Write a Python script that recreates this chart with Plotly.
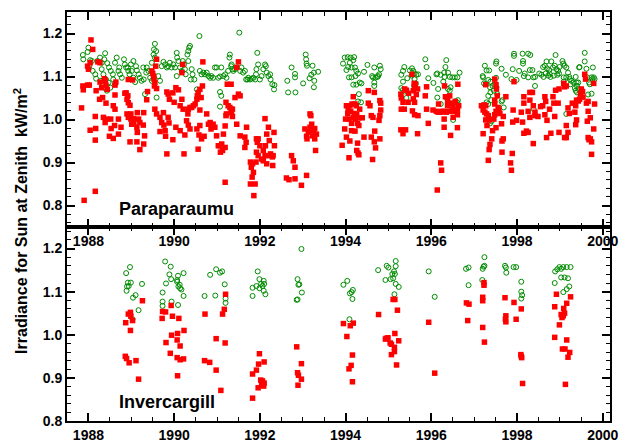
import plotly.graph_objects as go

# ---------------- Paraparaumu: clear-sky (green open circles) ----------------
para_clear_year = [
1987.87,1987.88,1988.00,1987.98,1988.04,1988.08,1988.02,1988.10,1988.16,1988.18,1988.21,1988.27,1988.31,1988.31,1988.35,1988.29,1988.33,1988.37,1988.41,1988.43,
1988.39,1988.37,1988.44,1988.48,1988.52,1988.57,1988.58,1988.62,1988.51,1988.47,1988.66,1988.62,1988.70,1988.72,1988.74,1988.78,1988.83,1988.85,1988.88,1988.92,
1988.93,1988.96,1988.99,1989.01,1989.05,1989.09,1989.05,1989.11,1989.13,1989.17,1989.20,1989.24,1989.29,1989.32,1989.35,1989.28,1989.36,1989.40,1989.44,1989.48,
1989.48,1989.52,1989.53,1989.55,1989.58,1989.55,1989.59,1989.63,1989.67,1989.71,1989.75,1989.79,1989.83,1989.86,1989.90,1989.94,1989.98,1990.02,1990.06,1990.07,
1990.10,1990.06,1990.14,1990.18,1990.20,1990.23,1990.25,1990.27,1990.31,1990.33,1990.35,1990.37,1990.33,1990.39,1990.41,1990.43,1990.47,1990.53,1990.59,1990.60,
1990.64,1990.68,1990.72,1990.76,1990.80,1990.84,1990.87,1990.91,1990.95,1990.99,1991.03,1991.07,1991.10,1991.07,1991.10,1991.07,1991.15,1991.19,1991.22,1991.26,
1991.29,1991.30,1991.33,1991.34,1991.36,1991.38,1991.42,1991.46,1991.52,1991.54,1991.57,1991.61,1991.65,1991.68,1991.71,1991.73,1991.77,1991.81,1991.85,1991.89,
1991.91,1991.92,1991.96,1991.94,1992.00,1992.04,1992.08,1992.12,1992.14,1992.16,1992.20,1992.24,1992.25,1992.29,1992.33,1992.34,
1992.64,1992.82,1992.82,1992.74,1992.66,1992.83,1993.01,1993.07,1993.08,1993.09,1993.10,1993.23,1993.20,1993.26,1993.36,1993.27,1993.26,1993.16,
1993.94,1993.98,1994.05,1994.12,1994.20,1994.18,1994.10,1994.06,1994.02,1994.14,1994.22,1994.25,1994.29,1994.23,1994.14,1994.08,1994.18,1994.25,1994.33,1994.37,
1994.31,1994.36,1994.29,1994.51,1994.67,1994.62,1994.64,1994.70,1994.67,1994.67,1994.80,1994.82,1994.78,1994.76,1994.74,1994.43,
1995.30,1995.34,1995.34,1995.37,1995.30,1995.34,1995.38,1995.42,1995.44,1995.50,1995.55,1995.58,1995.61,1995.65,1995.69,1995.54,1995.61,1995.64,1995.60,1995.86,
1995.89,1995.93,1996.05,1996.12,1996.14,1996.22,1996.30,1996.31,1996.35,1996.33,1996.28,1996.39,1996.43,1996.49,1996.55,1996.61,1996.66,1996.39,1996.43,1996.35,
1996.14,1996.22,1996.43,1996.56,1996.62,1996.61,1996.51,1996.16,1996.45,
1997.20,1997.21,1997.25,1997.29,1997.35,1997.33,1997.27,1997.23,1997.38,1997.37,1997.43,1997.48,1997.52,1997.51,1997.51,1997.52,1997.38,1997.46,1997.54,1997.33,
1997.29,1997.33,1997.40,1997.66,1997.64,1997.69,1997.41,1997.37,1997.64,1997.74,1997.87,1997.90,1997.93,1997.93,1997.99,1998.05,1998.13,1998.14,1998.14,1998.16,
1998.18,1998.26,1998.31,1998.30,1998.36,1998.38,1998.42,1998.26,1998.42,1998.39,1998.52,1998.57,1998.61,1998.65,1998.62,1998.69,1998.70,1998.75,1998.76,1998.80,
1998.78,1998.67,1998.73,1998.84,1998.88,1998.90,1998.92,1998.96,1998.99,1998.98,1998.94,1998.86,1999.06,1999.08,1999.11,1999.15,1999.19,1999.09,1999.15,1999.22,
1999.23,1999.27,1999.32,1999.37,1999.39,1999.40,1999.43,1999.43,1999.45,1999.46,1999.58,1999.58,1999.62,1999.64,1999.68,1999.66,1999.70,1999.74,1999.76,1999.77,
1999.79,1999.81,1999.35,1999.37,1999.40,1999.25,1999.15,1999.09,1999.74]
para_clear_irr = [
1.150,1.140,1.167,1.157,1.138,1.136,1.124,1.113,1.105,1.095,1.136,1.144,1.132,1.117,1.105,1.090,1.078,1.074,1.093,1.067,
1.154,1.140,1.131,1.121,1.113,1.105,1.093,1.082,1.074,1.086,1.144,1.132,1.113,1.121,1.105,1.097,1.140,1.128,1.121,1.121,
1.113,1.105,1.128,1.113,1.097,1.087,1.136,1.124,1.114,1.105,1.097,1.090,1.093,1.059,1.109,1.121,1.121,1.113,1.097,1.090,
1.132,1.151,1.163,1.176,1.159,1.144,1.051,1.101,1.090,1.124,1.134,1.128,1.121,1.124,1.132,1.121,1.128,1.121,1.155,1.144,
1.136,1.101,1.121,1.113,1.136,1.128,1.117,1.105,1.151,1.159,1.167,1.171,1.136,1.093,1.117,1.105,1.093,1.070,1.194,1.113,
1.105,1.109,1.105,1.109,1.101,1.097,1.101,1.097,1.121,1.121,1.097,1.100,1.121,1.064,1.055,1.030,1.101,1.105,1.097,1.113,
1.144,1.151,1.124,1.128,1.117,1.113,1.117,1.121,1.202,1.113,1.121,1.109,1.113,1.093,1.093,1.097,1.093,1.095,1.097,1.093,
1.105,1.117,1.128,1.155,1.093,1.101,1.117,1.128,1.124,1.109,1.101,1.105,1.093,1.082,1.070,1.080,
1.090,1.106,1.098,1.121,1.063,1.063,1.084,1.151,1.140,1.130,1.125,1.125,1.104,1.109,1.111,1.090,1.075,1.096,
1.130,1.144,1.145,1.144,1.145,1.138,1.132,1.122,1.115,1.121,1.121,1.113,1.107,1.101,1.098,1.098,1.081,1.081,1.086,1.084,
1.059,1.040,1.042,1.127,1.121,1.101,1.098,1.098,1.086,1.078,1.125,1.117,1.105,1.101,1.099,1.111,
1.104,1.088,1.113,1.122,1.073,1.069,1.065,1.050,1.096,1.114,1.119,1.113,1.107,1.104,1.105,1.102,1.094,1.084,1.078,1.140,
1.122,1.096,1.085,1.105,1.107,1.104,1.109,1.099,1.138,1.122,1.088,1.109,1.099,1.098,1.098,1.098,1.109,1.071,1.067,1.051,
1.051,1.036,1.038,1.042,1.045,1.039,0.999,1.071,1.075,
1.101,1.098,1.125,1.114,1.114,1.092,1.082,1.084,1.088,1.075,1.078,1.082,1.135,1.130,1.097,1.075,1.063,1.067,1.059,1.055,
1.040,1.036,1.045,1.045,1.042,1.028,0.996,0.991,1.118,1.104,1.094,1.117,1.153,1.148,1.092,1.113,1.153,1.136,1.130,1.101,
1.107,1.153,1.150,1.115,1.115,1.098,1.099,1.098,1.078,1.024,1.107,1.104,1.122,1.125,1.099,1.135,1.119,1.115,1.107,1.135,
1.099,1.107,1.102,1.121,1.125,1.150,1.117,1.113,1.122,1.107,1.104,1.102,1.136,1.130,1.125,1.121,1.109,1.098,1.098,1.099,
1.094,1.090,1.086,1.099,1.086,1.078,1.086,1.071,1.121,1.122,1.155,1.135,1.118,1.098,1.086,1.058,1.082,1.098,1.094,1.121,
1.098,1.094,1.073,1.067,1.063,1.082,1.013,1.088,1.060]

# ---------------- Paraparaumu: all-sky (red squares) ----------------
para_all_year = [
1987.90,1988.16,1987.84,1987.87,1987.88,1988.06,1988.10,1988.00,1987.98,1988.04,1988.02,1987.98,1988.04,1988.16,1988.17,1988.16,1988.18,1988.26,1988.31,1988.27,
1988.27,1988.22,1988.37,1988.39,1988.41,1988.33,1988.41,1988.35,1988.39,1988.43,1988.52,1988.53,1988.49,1988.61,1988.70,1988.76,1988.58,1988.70,1988.58,1988.62,
1988.62,1988.62,1988.64,1988.44,1988.85,1988.88,1988.92,1988.90,1988.93,1988.97,1988.99,1988.90,1988.93,1988.99,1989.05,1989.06,1989.01,1989.14,1989.13,1989.14,
1989.17,1989.20,1989.28,1989.29,1989.31,1989.29,1988.97,1989.13,1989.20,1989.03,1988.93,1989.36,1989.38,1989.48,1989.50,1989.52,1989.53,1989.55,1989.54,1989.57,
1989.59,1989.59,1989.55,1989.59,1989.67,1989.71,1989.75,1989.76,1989.79,1989.80,1989.83,1989.67,1989.83,1989.86,1989.89,1989.86,1989.88,1989.97,1989.97,1990.00,
1990.04,1990.04,1990.10,1990.14,1990.14,1990.18,1990.21,1990.23,1990.25,1990.29,1990.20,1990.18,1990.32,1990.33,1990.37,1990.41,1990.45,1990.49,1990.53,1990.54,
1990.56,1990.60,1990.63,1990.66,1990.67,1990.60,1990.33,1990.37,1990.53,1990.60,1990.56,1990.58,1990.70,1990.64,1990.76,1990.80,1990.84,1990.86,1990.91,1990.95,
1990.99,1991.03,1991.07,1991.11,1991.08,1991.13,1991.19,1991.19,1991.15,1991.19,1991.21,1991.22,1991.21,1991.26,1991.30,1991.33,1991.34,1991.36,1991.36,1991.24,
1991.33,1991.42,1991.50,1991.54,1991.50,1991.46,1991.46,1991.54,1991.65,1991.69,1991.68,1991.65,
1991.78,1991.80,1991.83,1991.85,1991.78,1991.89,1991.86,1991.82,1991.91,1991.92,1991.94,1991.92,1991.96,1991.96,1992.00,1992.04,1992.08,1992.12,1992.13,1992.12,
1992.16,1992.20,1992.22,1992.25,1992.29,1992.30,1992.31,1992.33,1992.34,1992.16,1992.08,1992.22,
1992.62,1992.68,1992.74,1992.78,1992.82,1992.82,1992.97,1993.09,1993.05,1993.09,1993.10,1993.13,1993.17,1993.17,1993.19,1993.21,1993.23,1993.25,1993.28,1993.32,
1993.28,1993.30,
1994.18,1994.02,1994.10,1994.15,1994.22,1994.25,1994.33,1994.06,1994.12,1994.05,1994.20,1994.26,1994.00,1994.08,1994.18,1994.23,1994.31,1994.39,1994.14,1994.28,
1994.31,1993.98,1994.14,1994.22,1994.02,1994.10,1994.28,1993.92,1994.26,1994.29,1994.31,1994.08,1994.53,1994.57,1994.60,1994.64,1994.80,1994.82,1994.82,1994.80,
1994.78,1994.68,1994.60,1994.67,1994.70,1994.43,1994.63,1994.67,1994.53,1994.80,
1995.29,1995.30,1995.34,1995.38,1995.42,1995.30,1995.37,1995.46,1995.47,1995.55,1995.60,1995.61,1995.58,1995.63,1995.68,1995.65,1995.58,1995.61,1995.56,1995.61,
1995.89,1995.86,1995.89,1995.29,1995.34,1995.40,1995.68,1995.93,1996.04,1996.12,1996.17,1996.16,1996.22,1996.25,1996.30,1996.35,1996.43,1996.49,1996.55,1996.61,
1996.64,1996.31,1996.33,1996.38,1996.43,1996.39,1996.45,1996.51,1996.38,1996.56,1996.62,1996.30,1996.51,1996.61,1996.30,1996.45,1996.61,1996.22,1996.24,1996.14,
1995.69,
1997.17,1997.23,1997.27,1997.21,1997.25,1997.29,1997.33,1997.27,1997.35,1997.30,1997.21,1997.43,1997.51,1997.41,1997.37,1997.35,1997.33,1997.27,1997.51,1997.52,
1997.48,1997.54,1997.48,1997.48,1997.56,1997.58,1997.48,1997.51,1997.46,1997.60,1997.68,1997.64,1997.74,1997.68,1997.65,1997.65,1997.89,1997.85,1997.87,1997.93,
1997.91,1997.90,1997.99,1998.10,1998.13,1998.16,1998.16,1998.16,1998.22,1998.26,1998.26,1998.30,1998.30,1998.30,1998.36,1998.38,1998.42,1998.42,1998.38,1998.49,
1998.55,1998.60,1998.65,1998.65,1998.67,1998.70,1998.69,1998.76,1998.79,1998.84,1998.86,1998.88,1998.90,1998.98,1998.96,1998.98,1999.09,1999.11,1999.15,1999.19,
1999.15,1999.11,1999.15,1999.19,1999.22,1999.29,1999.35,1999.37,1999.39,1999.43,1999.46,1999.48,1999.50,1999.53,1999.54,1999.58,1999.60,1999.62,1999.66,1999.37,
1999.39,1999.64,1999.66,1999.68,1999.71,1999.74,1999.79,1999.79,1999.81,1999.74,1999.66,1999.71]
para_all_irr = [
0.812,0.833,1.027,1.078,1.069,1.185,1.163,1.117,1.124,1.132,1.080,1.080,0.975,1.007,0.979,0.952,1.067,1.047,1.074,1.087,
1.132,1.134,1.095,1.090,1.080,1.051,1.038,1.005,0.993,1.001,1.001,0.979,0.961,0.986,1.001,0.982,0.956,0.966,1.032,1.024,
1.057,1.080,1.087,1.070,1.061,1.062,1.055,1.047,1.039,1.033,1.013,1.013,1.005,1.001,1.002,0.993,0.989,1.016,0.982,0.970,
1.001,0.993,0.987,1.016,0.962,0.943,0.948,0.948,0.930,1.092,1.093,1.046,1.065,1.113,1.107,1.101,1.094,1.086,1.078,1.124,
1.140,1.072,1.024,1.013,1.005,0.993,1.016,0.987,0.974,0.961,0.920,0.972,1.064,1.059,1.047,1.005,0.992,1.062,0.953,1.040,
1.074,0.982,1.069,1.032,0.974,1.047,1.024,0.920,0.964,0.997,1.128,1.109,1.013,1.024,1.028,1.028,1.032,1.036,1.047,1.055,
1.063,1.070,1.051,1.078,1.134,1.022,0.987,0.978,0.978,0.986,0.931,0.964,0.961,0.955,1.013,0.989,0.993,0.978,0.989,0.982,
0.962,0.939,0.939,0.943,0.924,0.928,0.935,0.854,0.966,0.985,1.009,1.013,1.040,1.032,1.028,1.024,1.016,1.007,1.024,1.082,
1.082,1.051,1.059,1.055,1.134,1.121,0.989,0.962,0.959,0.982,0.947,0.935,
0.901,0.889,0.897,0.877,0.850,0.850,0.823,0.866,0.901,0.924,0.947,0.955,0.955,0.916,0.939,0.908,0.904,0.916,0.939,1.002,
0.966,0.982,0.916,0.920,0.913,0.893,0.916,0.970,0.939,0.897,0.928,0.951,
0.864,0.860,0.916,0.904,0.889,0.862,0.847,0.870,0.978,0.961,0.955,0.970,0.982,1.013,1.009,0.989,0.962,0.974,0.979,0.966,
0.955,0.928,
1.053,1.032,1.032,1.036,1.036,1.032,1.024,1.022,1.019,1.014,1.014,1.011,1.001,1.001,1.004,1.001,1.004,1.004,0.991,0.991,
0.986,0.978,0.974,0.973,0.959,0.950,0.945,0.940,0.928,0.922,0.918,0.911,1.038,1.032,1.009,1.005,1.044,1.038,1.022,1.009,
0.998,0.973,0.959,0.948,0.934,0.959,0.907,1.063,1.067,0.955,
1.059,1.050,1.040,1.071,1.068,1.024,1.024,1.040,1.061,1.105,1.084,1.073,1.067,1.082,1.071,1.058,1.048,1.040,1.020,1.011,
1.076,1.055,1.024,0.976,0.967,0.976,0.967,0.991,1.022,1.019,1.036,1.017,1.017,1.019,1.019,1.017,1.019,1.022,1.019,1.022,
1.032,1.078,1.053,1.045,1.055,1.036,1.038,1.032,1.032,1.042,1.082,1.001,1.005,1.011,0.982,0.963,0.981,0.899,0.882,0.836,
1.009,
1.032,1.034,1.032,1.022,1.017,1.013,1.009,0.999,0.999,0.986,0.967,0.974,0.981,0.955,0.942,0.930,0.905,1.081,1.081,1.071,
1.094,1.055,1.045,1.036,1.028,1.022,1.011,1.019,1.001,1.014,1.007,0.990,1.053,0.955,0.950,0.924,0.921,0.899,0.882,1.088,
1.022,0.994,0.998,1.017,0.994,1.053,1.038,0.968,0.973,0.970,1.019,1.045,1.005,1.063,1.063,1.032,1.017,1.009,0.944,1.007,
1.030,1.032,1.053,1.011,1.042,0.998,0.958,1.024,0.968,1.053,1.038,1.007,1.068,1.071,1.038,0.970,1.084,1.076,1.078,1.027,
0.958,0.958,0.986,0.970,1.014,1.038,1.017,1.032,1.045,1.043,1.047,1.059,1.071,1.065,1.052,1.105,1.094,1.038,1.042,0.988,
0.999,0.996,0.958,0.953,0.955,0.948,0.978,1.084,1.036,0.919,1.019,1.004]

# ---------------- Invercargill: clear-sky (green open circles) ----------------
inv_clear_year = [
1988.88,1988.97,1988.92,1988.99,1988.90,1988.94,1988.89,1989.25,1989.10,1989.04,1989.17,1989.03,
1989.79,1989.92,1989.89,1989.81,1989.93,1990.09,1990.22,1990.07,1990.13,1990.14,1990.17,1989.73,1990.22,1989.94,1989.73,1989.73,1990.09,1990.07,1990.10,
1990.84,1990.98,1991.07,1991.12,1991.18,1990.96,1990.71,1991.20,1991.20,
1991.95,1991.99,1992.09,1992.03,1992.10,1991.83,1991.92,1991.99,1992.06,1992.09,1992.13,1991.83,
1992.97,1992.88,1992.90,1992.92,1992.98,1992.88,1992.86,
1993.95,1994.04,1994.17,1994.14,1994.10,1994.16,1994.09,
1994.76,1994.96,1995.00,1995.17,1995.17,1995.13,1995.09,1995.15,1995.05,1994.93,1995.11,1995.17,1995.24,1995.14,
1995.94,1996.08,
1996.81,1996.87,1997.20,1997.22,1997.24,1997.24,1997.19,1996.87,
1997.72,1997.74,1997.75,1997.92,1997.98,1998.10,1998.10,1998.12,1998.10,
1998.89,1998.94,1998.99,1999.03,1999.08,1999.16,1999.25,1999.03,1999.11,1999.19,1998.88,1999.22,1999.16,1999.08]
inv_clear_irr = [
1.143,1.157,1.121,1.121,1.112,1.113,1.102,1.118,1.092,1.086,1.057,1.036,
1.170,1.158,1.140,1.119,1.129,1.137,1.143,1.123,1.116,1.108,1.105,1.098,1.090,1.077,1.067,1.077,1.069,1.127,1.112,
1.139,1.152,1.144,1.147,1.117,1.091,1.090,1.084,1.074,
1.147,1.129,1.125,1.118,1.118,1.109,1.113,1.108,1.113,1.102,1.094,1.090,
1.199,1.129,1.116,1.117,1.098,1.082,1.081,
1.116,1.125,1.104,1.099,1.096,1.083,1.036,
1.150,1.160,1.156,1.171,1.159,1.147,1.141,1.141,1.129,1.127,1.131,1.118,1.111,1.094,
1.147,1.088,
1.153,1.156,1.153,1.158,1.160,1.180,1.127,1.115,
1.160,1.156,1.144,1.157,1.157,1.123,1.100,1.092,1.084,
1.147,1.152,1.157,1.153,1.157,1.157,1.157,1.133,1.133,1.131,1.120,1.112,1.106,1.099]

# ---------------- Invercargill: all-sky (red squares) ----------------
inv_all_year = [
1989.26,1988.98,1988.93,1988.99,1988.87,1989.03,1988.98,1988.86,1988.89,1988.95,1989.11,1989.17,
1989.93,1989.73,1989.80,1989.72,1989.96,1990.11,1989.94,1990.08,1990.23,1989.81,1990.07,1990.14,1989.91,1990.07,1990.14,1990.22,1990.08,
1991.20,1991.13,1991.17,1990.72,1990.98,1991.19,1990.71,1990.83,1990.98,1991.09,
1991.99,1991.97,1992.10,1991.92,1991.83,1992.02,1992.06,1992.10,1992.04,1991.96,1992.09,1991.83,
1992.86,1992.97,1992.88,1992.90,1992.97,1992.89,
1993.95,1994.11,1994.18,1994.03,1994.16,1994.13,1994.08,1994.16,
1994.77,1995.11,1995.15,1995.21,1995.15,1994.95,1994.99,1994.93,1995.04,1995.07,1995.24,1995.14,1995.14,1995.07,1995.19,
1995.94,1996.08,
1997.23,1997.23,1997.20,1997.20,1996.82,1996.88,1996.85,1997.20,1997.24,
1997.72,1997.93,1998.10,1997.98,1997.74,1997.73,1997.74,1998.09,1998.10,1998.11,1998.13,
1998.92,1999.25,1999.16,1999.09,1998.88,1999.11,1999.03,1999.08,1999.05,1998.99,1998.88,1999.16,1999.06,1999.12,1999.23,1999.19,1999.13]
inv_all_irr = [
1.079,1.052,1.048,1.043,1.028,1.033,1.010,0.950,0.945,0.935,0.940,0.897,
1.068,1.054,1.053,1.038,1.043,1.038,0.999,1.003,1.010,0.982,0.988,0.974,0.957,0.947,0.942,0.944,0.905,
1.094,1.048,1.059,1.048,0.991,0.981,0.940,0.936,0.918,0.871,
0.956,0.932,0.937,0.918,0.909,0.895,0.893,0.888,0.884,0.877,0.881,0.853,
0.972,0.933,0.912,0.906,0.897,0.883,
1.026,1.021,1.027,0.996,0.953,0.929,0.921,0.891,
1.047,1.082,1.082,1.057,1.003,0.992,0.993,0.990,0.981,0.978,0.986,0.971,0.961,0.954,0.930,
1.029,0.911,
1.121,1.115,1.087,1.079,1.074,1.071,1.033,1.017,0.983,
1.086,1.075,1.060,1.036,1.044,1.036,1.030,0.954,0.950,0.947,0.887,
1.094,1.088,1.073,1.061,1.065,1.050,1.047,1.044,1.040,1.023,0.994,0.988,0.967,0.967,0.959,0.948,0.885]

GREEN = "rgb(0,140,0)"
RED = "rgb(255,0,0)"
FONT = "Liberation Sans, Arial, Helvetica, sans-serif"

fig = go.Figure()

def add_pair(clear_x, clear_y, all_x, all_y, xa, ya):
    fig.add_trace(go.Scatter(x=clear_x, y=clear_y, mode="markers", xaxis=xa, yaxis=ya,
                             marker=dict(symbol="circle-open", size=5, color=GREEN, line=dict(width=1, color=GREEN)),
                             showlegend=False, hoverinfo="x+y"))
    fig.add_trace(go.Scatter(x=all_x, y=all_y, mode="markers", xaxis=xa, yaxis=ya,
                             marker=dict(symbol="square", size=5.5, color=RED, line=dict(width=0)),
                             showlegend=False, hoverinfo="x+y"))

add_pair(para_clear_year, para_clear_irr, para_all_year, para_all_irr, "x", "y")
add_pair(inv_clear_year, inv_clear_irr, inv_all_year, inv_all_irr, "x2", "y2")

tickfont = dict(family=FONT, size=14, color="black", weight="bold")
xcommon = dict(range=[1987.5, 2000.17], tick0=1988, dtick=2, ticks="inside", ticklen=8, tickwidth=1.5,
               tickcolor="black", showline=True, linewidth=2, linecolor="black", mirror="allticks",
               showgrid=False, zeroline=False, tickfont=tickfont, automargin=False, ticklabelstandoff=0,
               minor=dict(dtick=0.5, tick0=1988, ticks="inside", ticklen=4, tickwidth=1.2, tickcolor="black", showgrid=False))
ycommon = dict(tick0=0.8, dtick=0.1, tickformat=".1f", ticks="inside", ticklen=8, tickwidth=1.5,
               tickcolor="black", showline=True, linewidth=2, linecolor="black", mirror="allticks",
               showgrid=False, zeroline=False, tickfont=tickfont, automargin=False,
               minor=dict(dtick=0.02, tick0=0.8, ticks="inside", ticklen=4, tickwidth=1.2, tickcolor="black", showgrid=False))

split = 194 / 409
fig.update_layout(
    width=628, height=443,
    margin=dict(l=67, r=18, t=12, b=22),
    paper_bgcolor="white", plot_bgcolor="white",
    font=dict(family=FONT, color="black"),
    xaxis=dict(domain=[0, 1], anchor="y", **xcommon),
    yaxis=dict(domain=[split, 1], anchor="x", range=[0.75, 1.25], **ycommon),
    xaxis2=dict(domain=[0, 1], anchor="y2", **xcommon),
    yaxis2=dict(domain=[0, split], anchor="x2", range=[0.8, 1.25], **ycommon),
    annotations=[
        dict(text="Irradiance for Sun at Zenith  kW/m<sup>2</sup>", textangle=-90,
             xref="paper", yref="paper", x=-0.086, y=0.49, xanchor="center", yanchor="middle",
             showarrow=False, font=dict(family=FONT, size=16, color="black", weight="bold")),
        dict(text="Paraparaumu", xref="x domain", yref="y domain", x=0.092, y=0.083,
             xanchor="left", yanchor="middle", showarrow=False,
             font=dict(family=FONT, size=18, color="black", weight="bold")),
        dict(text="Invercargill", xref="x2 domain", yref="y2 domain", x=0.092, y=0.098,
             xanchor="left", yanchor="middle", showarrow=False,
             font=dict(family=FONT, size=18, color="black", weight="bold")),
    ],
)

fig.write_html("out.html")
